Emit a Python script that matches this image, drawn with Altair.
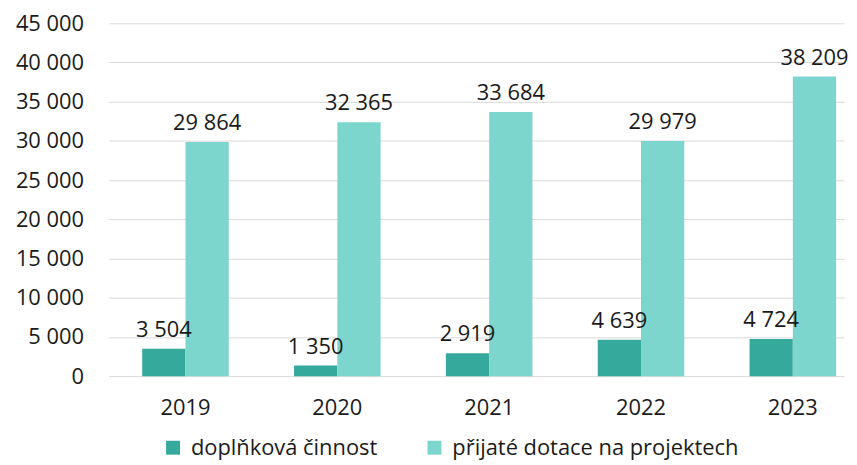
import altair as alt
import pandas as pd

years = ["2019", "2020", "2021", "2022", "2023"]
series_names = ["doplňková činnost", "přijaté dotace na projektech"]
doplnkova = [3504, 1350, 2919, 4639, 4724]
dotace = [29864, 32365, 33684, 29979, 38209]
y_ticks = list(range(0, 45001, 5000))
colors = ["#36A99D", "#7DD6CE"]

rows = []
for i, y in enumerate(years):
    rows.append({"year": y, "series": series_names[0], "value": doplnkova[i]})
    rows.append({"year": y, "series": series_names[1], "value": dotace[i]})
df = pd.DataFrame(rows)

FONT = "Open Sans"
FS = 22

base = alt.Chart(df).encode(
    x=alt.X(
        "year:N",
        sort=years,
        title=None,
        scale=alt.Scale(paddingInner=0.43, paddingOuter=0.1375, align=0.81),
        axis=alt.Axis(
            domain=False, ticks=False, labelAngle=0, labelPadding=22,
            labelFont=FONT, labelFontSize=FS, labelColor="#1a1a1a",
        ),
    ),
    xOffset=alt.XOffset("series:N", sort=series_names,
                        scale=alt.Scale(paddingInner=0, paddingOuter=0)),
    y=alt.Y(
        "value:Q",
        title=None,
        scale=alt.Scale(domain=[0, 45000], nice=False),
        axis=alt.Axis(
            values=y_ticks, domain=False, ticks=False, labelPadding=25,
            labelFont=FONT, labelFontSize=FS, labelColor="#1a1a1a",
            gridColor="#D9D9D9", gridWidth=1,
            labelExpr="replace(format(datum.value, ','), ',', ' ')",
        ),
    ),
)

bars = base.mark_bar().encode(
    color=alt.Color(
        "series:N",
        sort=series_names,
        scale=alt.Scale(domain=series_names, range=colors),
        legend=alt.Legend(
            title=None, orient="none", direction="horizontal",
            legendX=54, legendY=416,
            symbolType="square", symbolSize=196, symbolStrokeWidth=0,
            labelFont=FONT, labelFontSize=FS, labelColor="#1a1a1a",
            labelOffset=7, columnPadding=46, padding=0, labelLimit=0,
        ),
    ),
)

text = base.transform_calculate(
    label="replace(format(datum.value, ','), ',', ' ')"
).mark_text(
    baseline="alphabetic", dy=-12, font=FONT, fontSize=FS, color="#1a1a1a"
).encode(text="label:N")

chart = alt.layer(bars, text).properties(
    width=740, height=355,
    padding={"left": 7, "top": 3, "right": 0, "bottom": 0},
).configure_view(stroke=None)

chart.save("out.html", embed_options={"renderer": "svg", "actions": False})
